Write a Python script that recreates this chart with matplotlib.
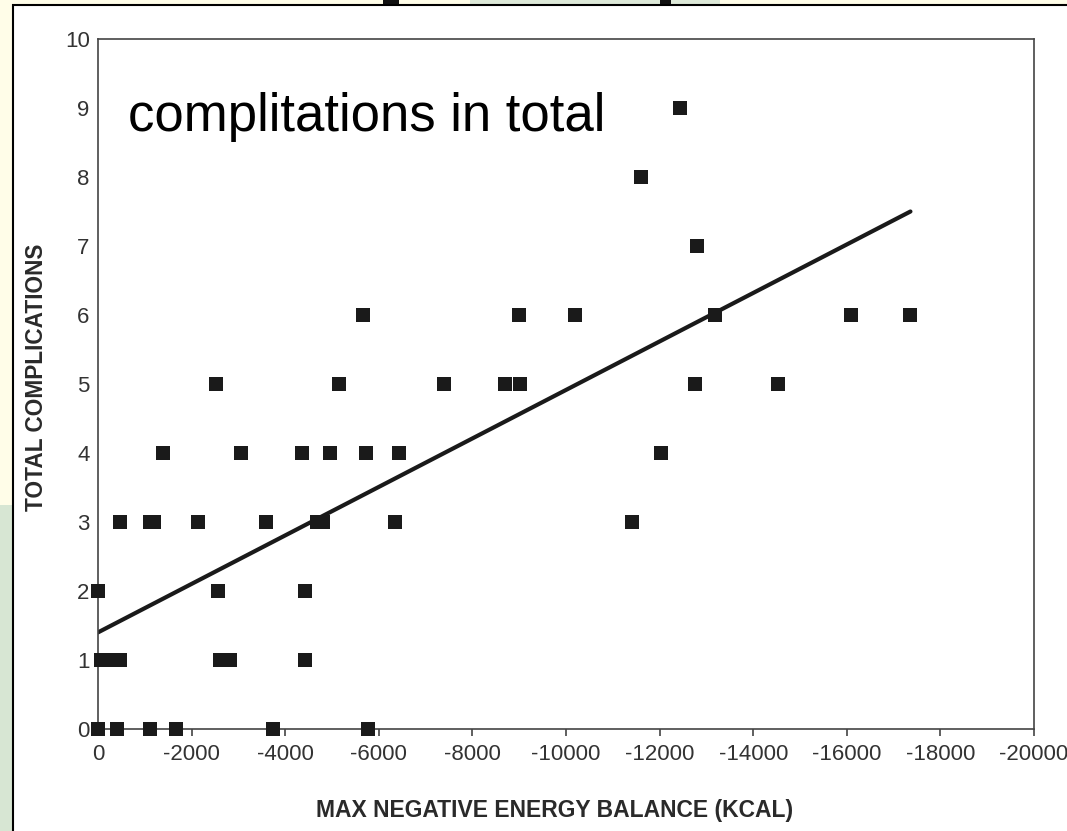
import matplotlib
matplotlib.use("Agg")
import matplotlib.pyplot as plt
from matplotlib.patches import Rectangle

plt.rcParams['font.family'] = ['Liberation Sans', 'DejaVu Sans']

# scatter points (kcal, number of complications)
energy_balance = [0, -400, -1120, -1660, -3740, -5770,
                  -60, -270, -480, -2610, -2830, -4420,
                  0, -2560, -4420,
                  -480, -1110, -1200, -2140, -3590, -4690, -4800, -6350, -11410,
                  -1390, -3060, -4350, -4950, -5720, -6430, -12030,
                  -2520, -5140, -7400, -8700, -9020, -12760, -14520,
                  -5660, -8990, -10190, -13180, -16090, -17360,
                  -12790,
                  -11600,
                  -12440]
complications = [0, 0, 0, 0, 0, 0,
                 1, 1, 1, 1, 1, 1,
                 2, 2, 2,
                 3, 3, 3, 3, 3, 3, 3, 3, 3,
                 4, 4, 4, 4, 4, 4, 4,
                 5, 5, 5, 5, 5, 5, 5,
                 6, 6, 6, 6, 6, 6,
                 7,
                 8,
                 9]

# regression line end points
fit_x = [0, -17360]
fit_y = [1.40, 7.50]

x_ticks = [0, -2000, -4000, -6000, -8000, -10000, -12000, -14000, -16000, -18000, -20000]
x_tick_labels = ['0', '-2000', '-4000', '-6000', '-8000', '-10000', '-12000',
                 '-14000', '-16000', '-18000', '-20000']
y_ticks = [0, 1, 2, 3, 4, 5, 6, 7, 8, 9, 10]

W, H = 1067, 831
fig = plt.figure(figsize=(W / 100, H / 100), dpi=100)
fig.patch.set_facecolor('#fffde8')

# slide background bits (greenish areas, cut-off title strokes) and the white picture frame
fig.patches.append(Rectangle((0, 0), 13 / W, 1 - 505 / H, transform=fig.transFigure,
                             facecolor='#d7e6d3', edgecolor='none', zorder=-3))
fig.patches.append(Rectangle((470 / W, 1 - 5 / H), 250 / W, 5 / H, transform=fig.transFigure,
                             facecolor='#dde9d8', edgecolor='none', zorder=-3))
for x0, w in [(383, 16), (660, 11)]:
    fig.patches.append(Rectangle((x0 / W, 1 - 5 / H), w / W, 5 / H, transform=fig.transFigure,
                                 facecolor='#111111', edgecolor='none', zorder=-3))
fig.patches.append(Rectangle((13 / W, -0.01), 1.0, 1 - 5 / H + 0.01, transform=fig.transFigure,
                             facecolor='white', edgecolor='black', linewidth=1.5, zorder=-2))

ax = fig.add_axes([98 / W, 1 - 729 / H, 936 / W, 690 / H])
ax.set_facecolor('white')

ax.plot(fit_x, fit_y, color='#1a1a1a', linewidth=3.0, solid_capstyle='round', zorder=2)
ax.plot(energy_balance, complications, 's', color='#1a1a1a', markersize=10,
        markeredgewidth=0, clip_on=False, zorder=3)

ax.set_xlim(0, -20000)
ax.set_ylim(0, 10)
ax.set_xticks(x_ticks)
ax.set_xticklabels(x_tick_labels)
ax.set_yticks(y_ticks)
ax.set_yticklabels([str(v) for v in y_ticks])

for side in ['left', 'bottom', 'top', 'right']:
    ax.spines[side].set_color('#444444')
    ax.spines[side].set_linewidth(1.2)

ax.tick_params(axis='x', direction='out', length=5, width=1.2, color='#444444',
               labelsize=16, labelcolor='#333333', pad=6)
ax.tick_params(axis='y', length=0, labelsize=16, labelcolor='#333333', pad=6)

ax.set_xlabel('MAX NEGATIVE ENERGY BALANCE (KCAL)', fontsize=16.5, fontweight='bold',
              color='#2a2a2a')
ax.xaxis.set_label_coords(0.488, -0.101)
ax.set_ylabel('TOTAL COMPLICATIONS', fontsize=16.3, fontweight='bold', color='#2a2a2a')
ax.yaxis.set_label_coords(-0.053, 0.509)

ax.text(0.032, 0.866, 'complitations in total', transform=ax.transAxes,
        fontsize=38, color='black', ha='left', va='baseline')

fig.savefig('out.png', dpi=100, facecolor=fig.get_facecolor())
